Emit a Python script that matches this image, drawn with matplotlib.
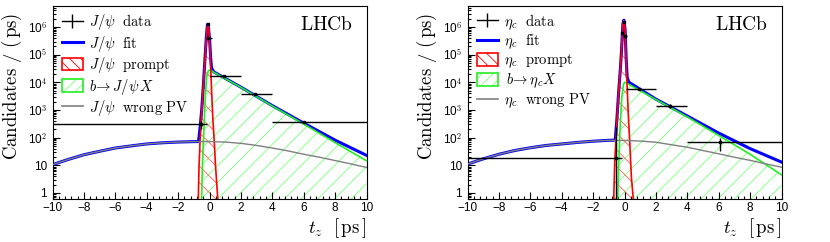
import numpy as np
import matplotlib
matplotlib.use("Agg")
import matplotlib.pyplot as plt
import matplotlib.patches as mpatches
from matplotlib.lines import Line2D
from matplotlib.legend_handler import HandlerTuple
from matplotlib.ticker import FixedLocator, LogLocator, MultipleLocator, NullFormatter

plt.rcParams["mathtext.fontset"] = "cm"
plt.rcParams["font.family"] = "Liberation Sans"
plt.rcParams["hatch.linewidth"] = 0.6
plt.rcParams["axes.unicode_minus"] = True

# -----------------------------
# J/psi panel values
# -----------------------------
jpsi_t = [-0.56, -0.11, -0.08, 0.9, 2.9, 6.0]
jpsi_lo = [-10.0, -0.13, -0.24, 0.05, 2.0, 4.0]
jpsi_hi = [-0.18, -0.09, 0.14, 2.0, 4.0, 10.0]
jpsi_y = [300, 1.3e6, 3.9e5, 1.7e4, 3700, 360]
jpsi_ylo = [100, 6e4, 3e4, 800, 250, 25]
jpsi_yhi = [110, 6e4, 3e4, 800, 250, 25]

jpsi_fit_t = [-10, -9, -8, -7, -6, -5, -4, -3, -2, -1, -0.71, -0.67, -0.6, -0.5,
              -0.39, -0.29, -0.2, -0.13, -0.07, 0.01, 0.07, 0.13, 0.27, 2, 4, 6, 8, 10]
jpsi_fit = [10.5, 16.2, 24, 32, 42, 50, 59, 65, 69, 71.6, 72, 100, 234, 955,
            8000, 7e4, 4.5e5, 1.26e6, 1.0e6, 3.4e5, 8e4, 3.3e4, 2.4e4, 6700, 1440, 335, 81, 22.8]

bkg_t = [-10, -9, -8, -7, -6, -5, -4, -3, -2, -1, 0, 1, 2, 3, 4, 5, 6, 7, 8, 9, 10]
jpsi_bkg = [10.5, 16.2, 24, 32, 42, 50, 59, 65, 69, 71.6, 72, 69, 62, 52, 42, 33, 25, 19.5, 14.8, 11.2, 8.3]

jpsi_prompt_t = [-0.78, -0.71, -0.67, -0.6, -0.5, -0.4, -0.3, -0.2, -0.13, -0.1,
                 -0.03, 0.03, 0.08, 0.14, 0.22, 0.31, 0.39, 0.48, 0.52, 0.56]
jpsi_prompt = [0.3, 0.68, 8.3, 78, 800, 6300, 5e4, 4e5, 1.15e6, 1.2e6,
               7.8e5, 1.45e5, 3.2e4, 3900, 420, 59, 8.3, 1.55, 0.68, 0.3]

jpsi_b_t = [-0.52, -0.44, -0.35, -0.27, -0.18, -0.08, 0.0, 0.1, 0.27, 2, 4, 6, 8, 10]
jpsi_b = [0.3, 14.5, 234, 2950, 1.6e4, 2.6e4, 2.8e4, 2.7e4, 2.33e4, 6600, 1400, 310, 66, 14.5]

# -----------------------------
# eta_c panel values
# -----------------------------
eta_t = [-0.53, -0.06, -0.15, 0.06, 0.9, 2.9, 6.1]
eta_lo = [-10.0, -0.08, -0.17, -0.05, 0.1, 2.0, 4.0]
eta_hi = [-0.17, -0.04, -0.13, 0.17, 2.0, 4.0, 10.0]
eta_y = [17.8, 1.56e6, 6.2e5, 4.7e5, 5600, 1400, 68]
eta_ylo = [17.7, 1.5e5, 8e4, 6e4, 500, 180, 36]
eta_yhi = [216, 1.5e5, 8e4, 6e4, 500, 180, 32]

eta_fit_t = [-10, -9, -8, -7, -6, -5, -4, -3, -2, -1, -0.59, -0.55, -0.49, -0.38,
             -0.27, -0.19, -0.1, -0.04, 0.04, 0.11, 0.17, 0.27, 2, 4, 6, 8, 10]
eta_fit = [11, 17, 25, 34, 43, 52, 59, 67, 74, 80, 81, 160, 420, 3900,
           2.75e4, 1.45e5, 1.35e6, 1.78e6, 7.8e5, 6.3e4, 1.55e4, 1.02e4, 2470, 605, 146, 40, 13]

eta_bkg = [11, 17, 25, 34, 43, 52, 59, 67, 74, 80, 79, 75, 68, 55, 45, 34, 26, 19.5, 15, 11.2, 8.5]

eta_prompt_t = [-0.7, -0.62, -0.55, -0.49, -0.38, -0.27, -0.19, -0.1, -0.04, 0.0,
                0.04, 0.11, 0.17, 0.23, 0.34, 0.44, 0.55, 0.6]
eta_prompt = [0.3, 14.5, 70, 330, 3800, 2.6e4, 1.4e5, 1.3e6, 1.7e6, 1.2e6,
              7.5e5, 4e4, 7000, 950, 59, 3.6, 0.7, 0.3]

eta_b_t = [-0.45, -0.36, -0.28, -0.17, -0.06, 0.02, 0.27, 2, 4, 6, 8, 10]
eta_b = [0.3, 14.5, 234, 2950, 8900, 1.0e4, 8500, 2400, 560, 120, 25, 4.5]

ytick_vals = [1, 10, 1e2, 1e3, 1e4, 1e5, 1e6]
ytick_labels = ["1", "10", r"10$^{\mathsf{2}}$", r"10$^{\mathsf{3}}$", r"10$^{\mathsf{4}}$",
                r"10$^{\mathsf{5}}$", r"10$^{\mathsf{6}}$"]

BLUE = "#0000ff"
RED = "#ff0000"
GREEN = "#22ee22"
GREEN_HATCH = (0.3, 1.0, 0.3, 0.75)
GRAY = "#808080"

W, H = 830, 242
fig = plt.figure(figsize=(W / 100, H / 100), dpi=100)


def panel(x0, part, d, fit_t, fit, bkg, pr_t, pr, b_t, b):
    ax = fig.add_axes([x0 / W, 43 / H, 314 / W, 193 / H])
    t, lo, hi, y, ylo, yhi = d

    ax.fill_between(b_t, b, 0.05, facecolor="none", edgecolor=GREEN_HATCH,
                    hatch="//", linewidth=0, zorder=1)
    ax.fill_between(pr_t, pr, 0.05, facecolor="none", edgecolor=(1, 0.2, 0.2, 0.8),
                    hatch="\\\\", linewidth=0, zorder=1)
    ax.plot(fit_t, fit, color=BLUE, lw=2.2, zorder=2)
    ax.plot(b_t, b, color=GREEN, lw=1.2, zorder=3)
    ax.plot(pr_t, pr, color=RED, lw=1.2, zorder=4)
    ax.plot(bkg_t, bkg, color=GRAY, lw=1.0, zorder=5)

    t = np.array(t)
    ax.errorbar(t, y, xerr=[t - np.array(lo), np.array(hi) - t], yerr=[ylo, yhi],
                fmt="s", ms=2, color="k", elinewidth=1, capsize=0, zorder=6)

    ax.set_yscale("log")
    ax.set_xlim(-10, 10)
    ax.set_ylim(0.6, 5.8e6)

    ax.yaxis.set_major_locator(FixedLocator(ytick_vals))
    ax.set_yticklabels(ytick_labels)
    ax.yaxis.set_minor_locator(LogLocator(base=10, subs=np.arange(2, 10), numticks=20))
    ax.yaxis.set_minor_formatter(NullFormatter())
    ax.xaxis.set_major_locator(MultipleLocator(2))
    ax.xaxis.set_minor_locator(MultipleLocator(0.4))
    ax.tick_params(which="both", direction="in", top=False, right=False, labelsize=8.5,
                   width=0.8)
    ax.tick_params(which="major", length=5, pad=4)
    ax.tick_params(which="minor", length=2.5)
    ax.tick_params(axis="x", pad=2)
    for s in ax.spines.values():
        s.set_linewidth(0.8)

    ax.text(0.957, 0.90, r"$\mathrm{LHCb}$", transform=ax.transAxes, ha="right",
            va="center", fontsize=14)

    handles = [
        Line2D([0], [0], color="k", lw=1, marker="|", ms=10, mew=1),
        Line2D([0], [0], color=BLUE, lw=2.2),
        mpatches.Patch(facecolor="white", edgecolor=RED, hatch="\\\\\\", lw=1.2),
        (mpatches.Patch(facecolor="none", edgecolor=GREEN_HATCH, hatch="///", lw=0),
         mpatches.Patch(facecolor="none", edgecolor=GREEN, lw=1.2)),
        Line2D([0], [0], color=GRAY, lw=1.2),
    ]
    if part == "jpsi":
        labels = [r"$J/\psi\ \ \mathrm{data}$", r"$J/\psi\ \ \mathrm{fit}$",
                  r"$J/\psi\ \ \mathrm{prompt}$", r"$b\!\rightarrow J/\psi\,X$",
                  r"$J/\psi\ \ \mathrm{wrong\ PV}$"]
    else:
        labels = [r"$\eta_c\ \ \mathrm{data}$", r"$\eta_c\ \ \mathrm{fit}$",
                  r"$\eta_c\ \ \mathrm{prompt}$", r"$\,b\!\rightarrow \eta_c X$",
                  r"$\eta_c\ \ \mathrm{wrong\ PV}$"]
    ax.legend(handles, labels, loc="upper left", bbox_to_anchor=(0.03, 0.968),
              frameon=False, fontsize=10.5, handlelength=1.45, handleheight=0.95,
              handletextpad=0.42, labelspacing=0.1, borderpad=0, borderaxespad=0,
              handler_map={tuple: HandlerTuple(ndivide=1, pad=0)})

    fig.text((x0 - 40.5) / W, 1 - 86.5 / H, r"$\mathrm{Candidates\ /\ (\,ps)}$",
             rotation=90, ha="center", va="center", fontsize=13.5)
    fig.text((x0 + 314) / W, 1 - 228 / H, r"$t_z\ \ [\,\mathrm{ps}\,]$",
             ha="right", va="center", fontsize=13.5)
    return ax


panel(52.5, "jpsi", (jpsi_t, jpsi_lo, jpsi_hi, jpsi_y, jpsi_ylo, jpsi_yhi),
      jpsi_fit_t, jpsi_fit, jpsi_bkg, jpsi_prompt_t, jpsi_prompt, jpsi_b_t, jpsi_b)
panel(467.5, "eta", (eta_t, eta_lo, eta_hi, eta_y, eta_ylo, eta_yhi),
      eta_fit_t, eta_fit, eta_bkg, eta_prompt_t, eta_prompt, eta_b_t, eta_b)

fig.savefig("out.png", dpi=100)
